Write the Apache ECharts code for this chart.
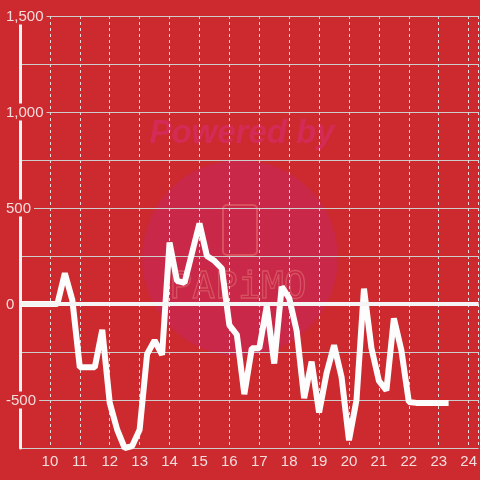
<!DOCTYPE html>
<html>
<head>
<meta charset="utf-8">
<script src="https://cdn.jsdelivr.net/npm/echarts@6/dist/echarts.min.js"></script>
<style>html,body{margin:0;padding:0;background:#cc2a2f;}#c{width:480px;height:480px;}</style>
</head>
<body>
<div id="c"></div>
<script>
var hours = [9.0,9.25,9.5,9.75,10.0,10.25,10.5,10.75,11.0,11.25,11.5,11.75,12.0,12.25,12.5,12.75,13.0,13.25,13.5,13.75,14.0,14.25,14.5,14.75,15.0,15.25,15.5,15.75,16.0,16.25,16.5,16.75,17.0,17.25,17.5,17.75,18.0,18.25,18.5,18.75,19.0,19.25,19.5,19.75,20.0,20.25,20.5,20.75,21.0,21.25,21.5,21.75,22.0,22.25,22.5,22.75,23.0,23.33];
var values = [0,0,0,0,0,0,160,20,-330,-330,-330,-135,-515,-655,-750,-740,-655,-260,-190,-265,320,120,110,265,420,250,225,185,-110,-160,-470,-230,-230,-10,-310,90,30,-140,-490,-300,-565,-360,-215,-380,-710,-500,80,-230,-400,-450,-75,-240,-510,-515,-515,-515,-515,-515];
var xTicks = [10,11,12,13,14,15,16,17,18,19,20,21,22,23,24];
var yLabelValues = [-500,0,500,1000,1500];

var BG = '#cc2a2f';
var chart = echarts.init(document.getElementById('c'));
var data = hours.map(function(h,i){return [h, values[i]];});
chart.setOption({
  backgroundColor: BG,
  animation: false,
  grid: {left: 20, right: 0, top: 16, bottom: 32, containLabel: false},
  graphic: [
    {type:'circle', z:-10, shape:{cx:240, cy:258, r:98}, style:{fill:'#c92848'}},
    {type:'text', z:-10, style:{x:242, y:134, text:'Powered by', fill:'#d32b55', font:'italic bold 33px "Liberation Sans", Arial, sans-serif', textAlign:'center', textVerticalAlign:'middle'}},
    {type:'rect', z:-9, shape:{x:223, y:205, width:34, height:50, r:4}, style:{fill:'none', stroke:'#d9505f', lineWidth:2}},
    {type:'text', z:-9, style:{x:238, y:288, text:'PAPiMO', fill:'none', stroke:'#d65262', lineWidth:1.3, font:'38px "DejaVu Sans Mono", monospace', textAlign:'center', textVerticalAlign:'middle'}}
  ],
  xAxis: {
    type: 'value', min: 9, max: 24.3333, interval: 1,
    axisLine: {show: false}, axisTick: {show: false},
    axisLabel: {
      color: '#f3dcdc', fontSize: 15, margin: 6, fontFamily: '"Liberation Sans", Arial, sans-serif',
      showMinLabel: false, showMaxLabel: false,
      formatter: function(v){ return xTicks.indexOf(v) >= 0 ? String(v) : ''; }
    },
    splitLine: {show: true, lineStyle: {color: '#dddddd', width: 1, type: [3,3]}}
  },
  yAxis: {
    type: 'value', min: -750, max: 1500, interval: 250,
    axisLine: {show: true, lineStyle: {color: '#f4f4f4', width: 3}},
    axisTick: {show: false},
    axisLabel: {
      align: 'left', margin: 15, fontFamily: '"Liberation Sans", Arial, sans-serif',
      formatter: function(v){ return yLabelValues.indexOf(v) >= 0 ? '{a|' + v.toLocaleString('en-US') + '}' : ''; },
      rich: {a: {color: '#f3dcdc', fontSize: 15, backgroundColor: BG, padding: [2,3,0,1], fontFamily: '"Liberation Sans", Arial, sans-serif'}}
    },
    splitLine: {show: true, lineStyle: {color: '#cccccc', width: 1}}
  },
  series: [{
    type: 'line', data: data, showSymbol: false, symbol: 'none',
    lineStyle: {color: '#fdfdfd', width: 6},
    markLine: {silent: true, symbol: 'none', label: {show: false},
      lineStyle: {color: '#f4f4f4', width: 4, type: 'solid'},
      data: [{yAxis: 0}]}
  }]
});
</script>
</body>
</html>
